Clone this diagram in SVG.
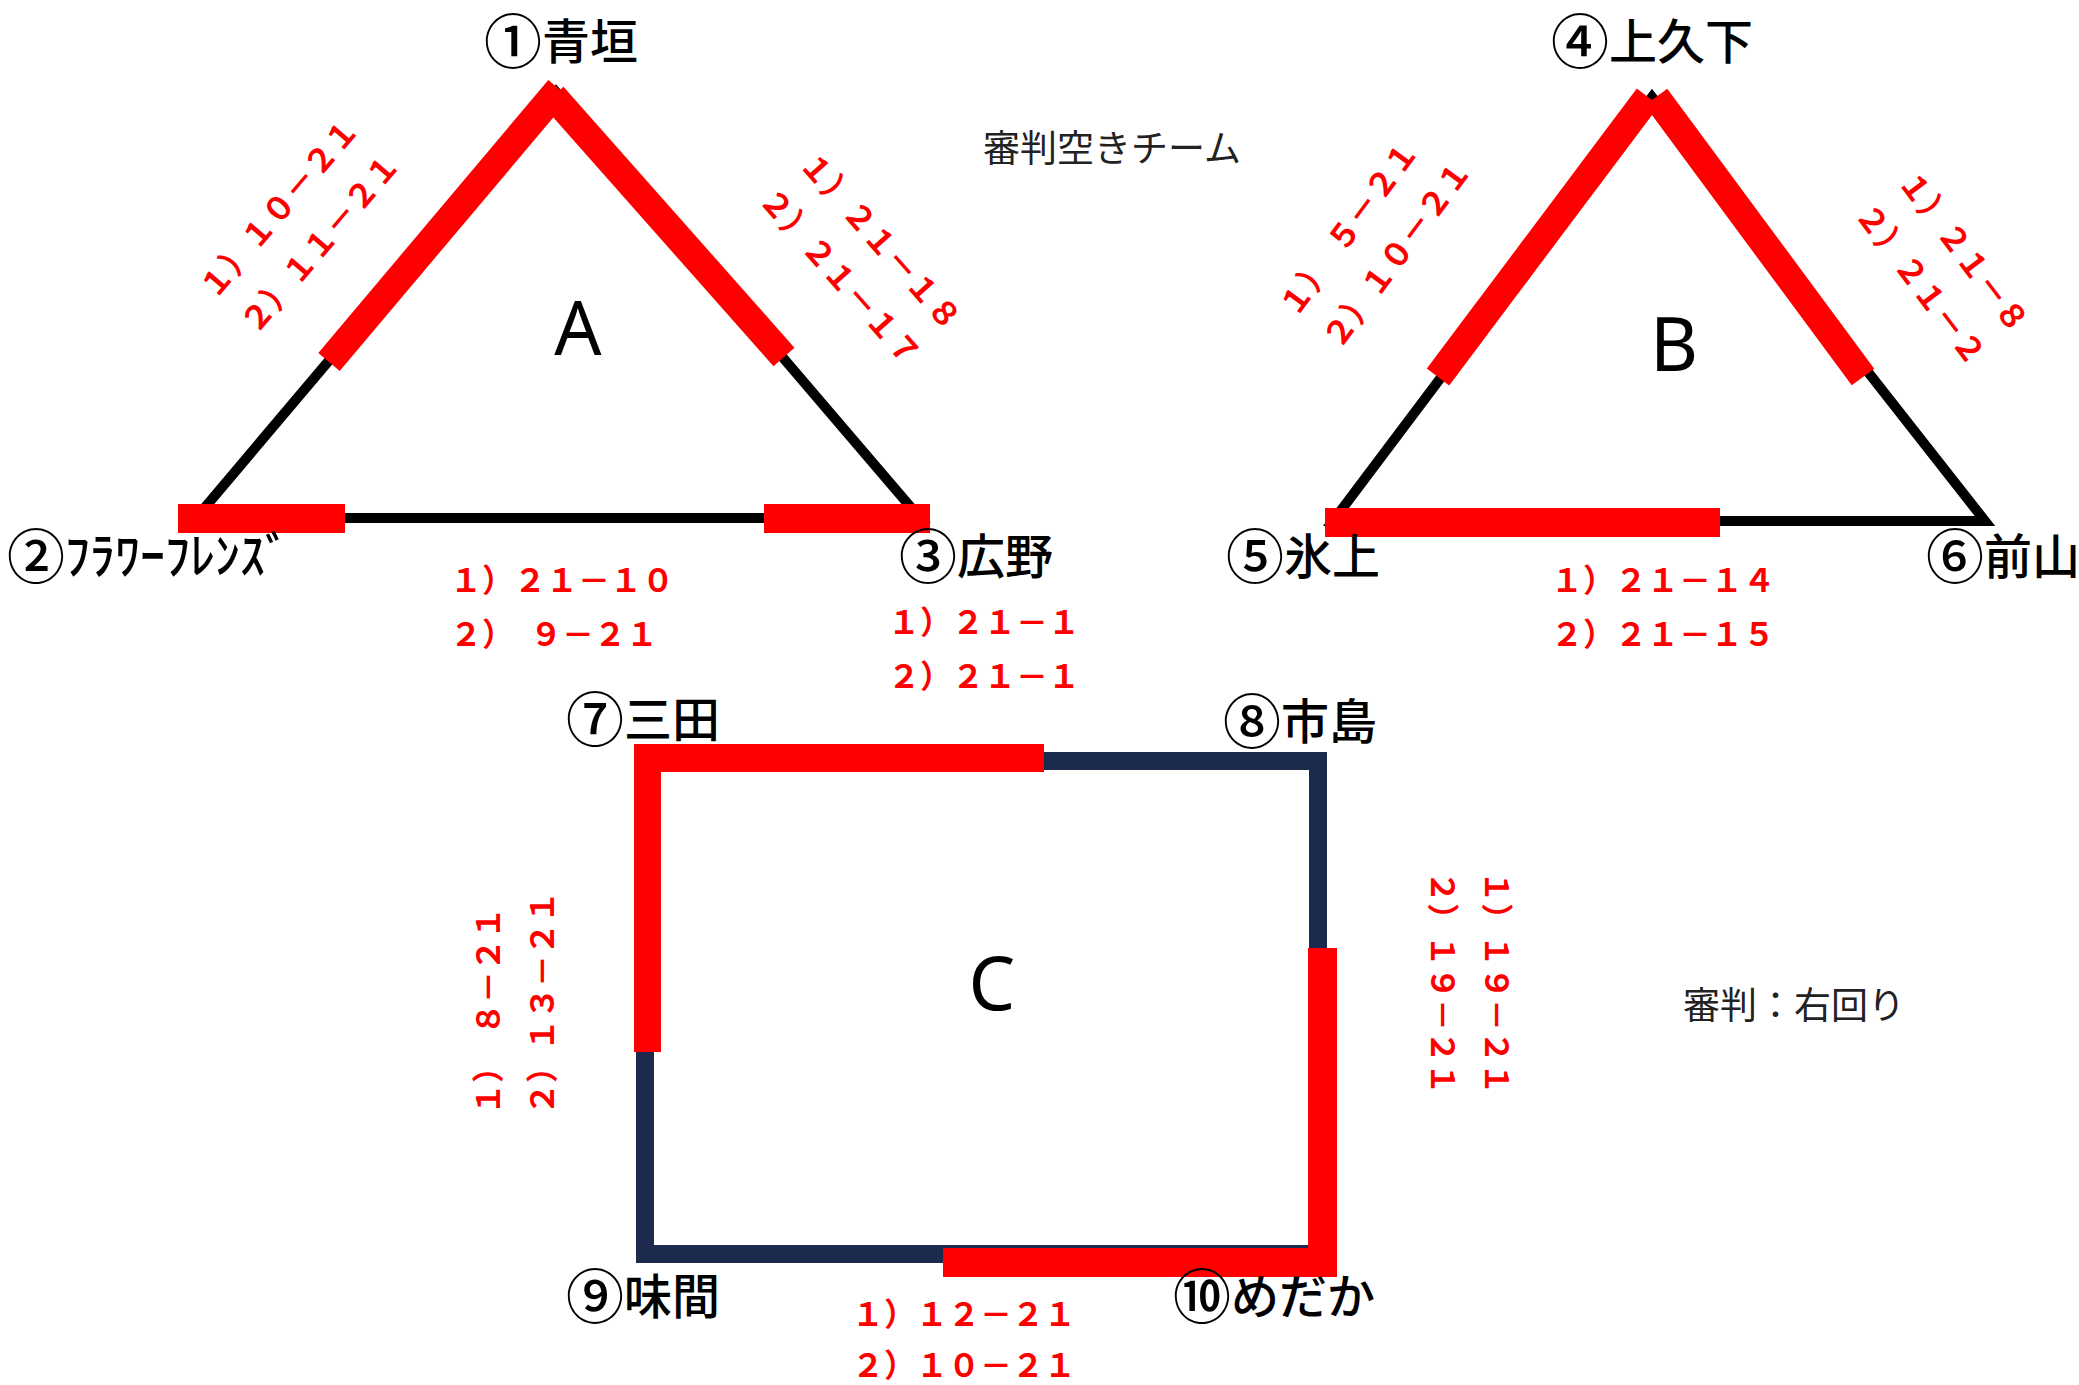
<svg xmlns="http://www.w3.org/2000/svg" width="2079" height="1385" viewBox="0 0 2079 1385">
<style>
.lbl{font-family:"Noto Sans CJK JP","Noto Sans",sans-serif;font-size:48px;font-weight:500;fill:#000}
.cd{font-size:58px}
.sc{font-family:"Noto Sans CJK JP",sans-serif;font-size:32px;font-weight:700;fill:#ff0000}
.big{font-family:"Noto Sans","Open Sans",sans-serif;font-size:74px;fill:#000;text-anchor:middle}
.note{font-family:"Noto Sans CJK JP",sans-serif;font-size:37px;fill:#222}
.blk{stroke:#000;stroke-width:10;fill:none}
.navy{stroke:#1C2B4D;stroke-width:18;fill:none}
.red{stroke:#ff0000;stroke-width:28;fill:none}
.redr{fill:#ff0000}
</style>
<rect width="2079" height="1385" fill="#fff"/>
<g id="connectors">
  <!-- Group A -->
  <polygon class="blk" points="556,92 196,518 920,518"/>
  <line class="red" x1="559" y1="89" x2="329" y2="362"/>
  <line class="red" x1="553" y1="96" x2="784" y2="357"/>
  <rect class="redr" x="178" y="504" width="167" height="29"/>
  <rect class="redr" x="764" y="504" width="166" height="29"/>
  <!-- Group B -->
  <polygon class="blk" points="1652,97 1333,521 1985,521"/>
  <line class="red" x1="1648" y1="97" x2="1438" y2="377"/>
  <line class="red" x1="1656" y1="97" x2="1863" y2="377"/>
  <rect class="redr" x="1325" y="508" width="395" height="29"/>
  <!-- Group C -->
  <rect class="navy" x="645" y="761" width="673" height="493"/>
  <rect class="redr" x="634" y="744" width="410" height="28"/>
  <rect class="redr" x="634" y="744" width="27" height="308"/>
  <rect class="redr" x="1308" y="948" width="29" height="327"/>
  <rect class="redr" x="943" y="1248" width="394" height="29"/>
</g>
<g id="scores">
  <text class="sc" transform="translate(215,301) rotate(-49.5)"><tspan x="0" y="0">１）１０－２１</tspan><tspan x="0" y="54">２）１１－２１</tspan></text>
  <text class="sc" transform="translate(798,165) rotate(48.5)"><tspan x="0" y="0">１）２１－１８</tspan><tspan x="0" y="54">２）２１－１７</tspan></text>
  <text class="sc"><tspan x="450" y="592">１）２１－１０</tspan><tspan x="450" y="646">２）　９－２１</tspan></text>
  <text class="sc"><tspan x="888" y="634">１）２１－１</tspan><tspan x="888" y="688">２）２１－１</tspan></text>
  <text class="sc" transform="translate(1296,319) rotate(-53.5)"><tspan x="0" y="0">１）　５－２１</tspan><tspan x="0" y="54">２）１０－２１</tspan></text>
  <text class="sc" transform="translate(1897,182) rotate(53)"><tspan x="0" y="0">１）２１－８</tspan><tspan x="0" y="54">２）２１－２</tspan></text>
  <text class="sc"><tspan x="1551" y="592">１）２１－１４</tspan><tspan x="1551" y="646">２）２１－１５</tspan></text>
  <text class="sc" transform="translate(500,1115) rotate(-90)"><tspan x="0" y="0">１）　８－２１</tspan><tspan x="0" y="54">２）１３－２１</tspan></text>
  <text class="sc" transform="translate(1485,871) rotate(90)"><tspan x="0" y="0">１）１９－２１</tspan><tspan x="0" y="54">２）１９－２１</tspan></text>
  <text class="sc"><tspan x="852" y="1326">１）１２－２１</tspan><tspan x="852" y="1377">２）１０－２１</tspan></text>
</g>
<g id="group-A"><text class="big" x="578" y="355">A</text></g>
<g id="group-B"><text class="big" x="1674" y="371">B</text></g>
<g id="group-C"><text class="big" x="992" y="1010">C</text></g>
<g id="team-1"><text class="lbl" x="484" y="59"><tspan class="cd" dy="4">①</tspan><tspan dy="-4">青垣</tspan></text></g>
<g id="team-2"><text class="lbl" x="7" y="574"><tspan class="cd" dy="4">②</tspan><tspan dy="-4" font-size="50">ﾌﾗﾜｰﾌﾚﾝｽﾞ</tspan></text></g>
<g id="team-3"><text class="lbl" x="899" y="574"><tspan class="cd" dy="4">③</tspan><tspan dy="-4">広野</tspan></text></g>
<g id="team-4"><text class="lbl" x="1551" y="59"><tspan class="cd" dy="4">④</tspan><tspan dy="-4">上久下</tspan></text></g>
<g id="team-5"><text class="lbl" x="1226" y="574"><tspan class="cd" dy="4">⑤</tspan><tspan dy="-4">氷上</tspan></text></g>
<g id="team-6"><text class="lbl" x="1926" y="574"><tspan class="cd" dy="4">⑥</tspan><tspan dy="-4">前山</tspan></text></g>
<g id="team-7"><text class="lbl" x="566" y="737"><tspan class="cd" dy="4">⑦</tspan><tspan dy="-4">三田</tspan></text></g>
<g id="team-8"><text class="lbl" x="1223" y="739"><tspan class="cd" dy="4">⑧</tspan><tspan dy="-4">市島</tspan></text></g>
<g id="team-9"><text class="lbl" x="566" y="1314"><tspan class="cd" dy="4">⑨</tspan><tspan dy="-4">味間</tspan></text></g>
<g id="team-10"><text class="lbl" x="1173" y="1314"><tspan class="cd" dy="4">⑩</tspan><tspan dy="-4">めだか</tspan></text></g>
<g id="note-free"><text class="note" x="983" y="162">審判空きチーム</text></g>
<g id="note-ref"><text class="note" x="1683" y="1019">審判：右回り</text></g>
</svg>
